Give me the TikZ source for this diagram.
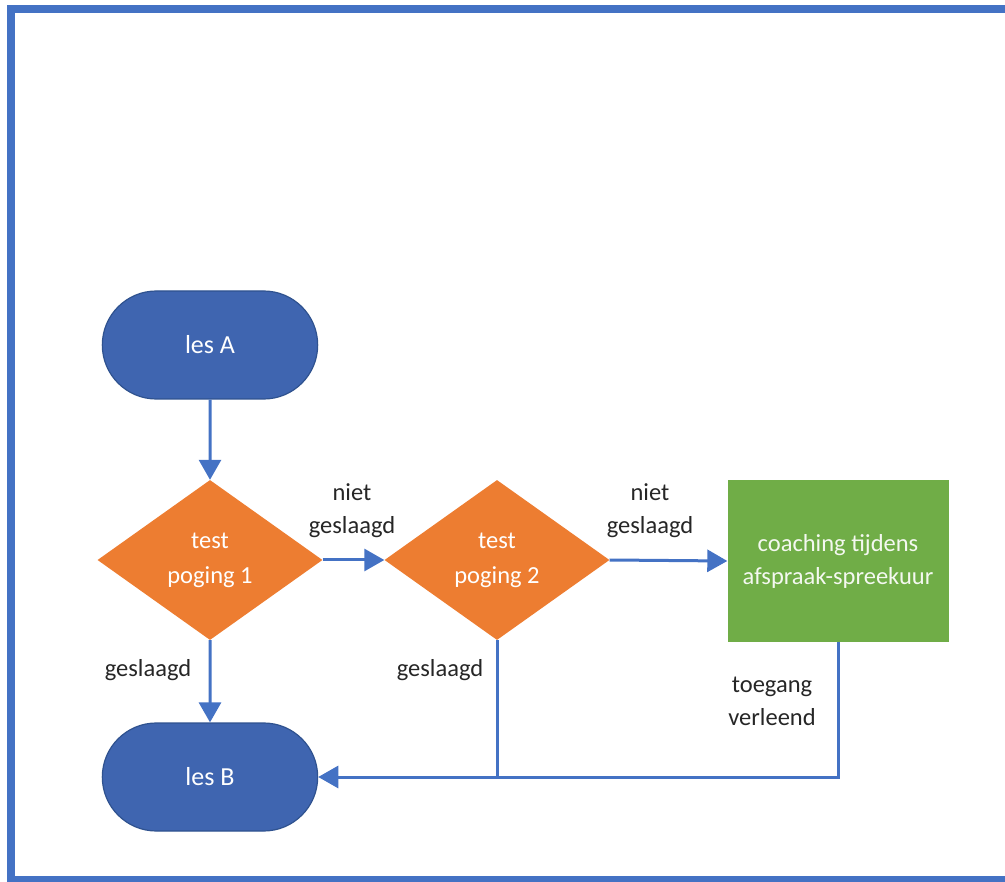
\documentclass[tikz,border=0pt]{standalone}
\usepackage{fontspec}
\setmainfont{Carlito}
\usetikzlibrary{shapes.geometric,shapes.misc,arrows.meta}
\definecolor{lineblue}{HTML}{4472C4}
\definecolor{termfill}{HTML}{3F65B0}
\definecolor{termdraw}{HTML}{2F528F}
\definecolor{decfill}{HTML}{ED7D31}
\definecolor{procfill}{HTML}{70AD47}
\definecolor{labeltext}{HTML}{262626}
\tikzset{
  terminal/.style={rounded rectangle, fill=termfill, draw=termdraw, line width=1.2pt,
    minimum width=222pt, minimum height=108pt, text=white, font=\fontsize{26}{32}\selectfont},
  decision/.style={diamond, fill=decfill, draw=none, minimum width=225pt, minimum height=160pt,
    inner sep=0pt, text=white, align=center, font=\fontsize{24.5}{35}\selectfont},
  process/.style={rectangle, fill=procfill, draw=none, minimum width=221pt, minimum height=161pt,
    text=white!92!procfill, align=center, font=\fontsize{24.5}{33}\selectfont},
  lbl/.style={align=center, text=labeltext, inner sep=0pt, font=\fontsize{24.5}{33}\selectfont},
  conn/.style={draw=lineblue, line width=3pt},
  arr/.style={conn, -{Triangle[length=20pt,width=22pt]}},
}
\begin{document}
\begin{tikzpicture}[x=1pt,y=-1pt]
\useasboundingbox (0,0) rectangle (1005,882);
% frame
\draw[lineblue, line width=8pt] (1010,9) -- (10.5,9) -- (10.5,880) -- (1010,880);
% nodes
\node[terminal] (lesA) at (210,345) {les A};
\node[decision] (d1) at (210,560) {test\\poging 1};
\node[decision] (d2) at (497,560) {test\\poging 2};
\node[process] (coach) at (838,561) {coaching tijdens\\afspraak-spreekuur};
\node[terminal] (lesB) at (210,777) {les B};
% junction coordinates
\coordinate (j2) at (d2.south |- lesB.east);
\coordinate (jc) at (coach.south |- lesB.east);
% connectors
\draw[arr] (lesA) -- (d1);
\draw[arr] (d1) -- (lesB);
\draw[arr] (d1.east) -- (d2.west);
\draw[arr] (d2.east) -- (coach.west);
\draw[conn] (d2.south) -- (j2);
\draw[arr] (coach.south) -- (jc) -- (lesB.east);
% labels
\node[lbl] (l1) at (352,511) {niet\\geslaagd};
\node[lbl] (l2) at (650,511) {niet\\geslaagd};
\node[lbl] (l3) at (148,670) {geslaagd};
\node[lbl] (l4) at (440,670) {geslaagd};
\node[lbl] (l5) at (772,701) {toegang\\verleend};
\end{tikzpicture}
\end{document}
